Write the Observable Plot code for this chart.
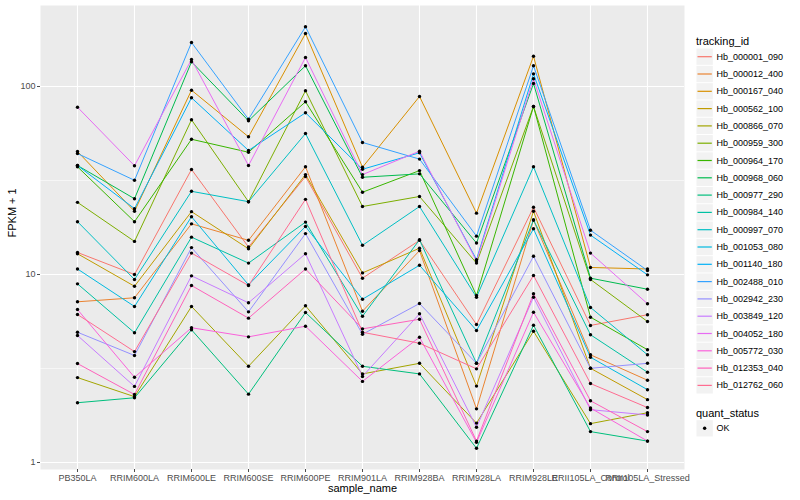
<!DOCTYPE html>
<html>
<head>
<meta charset="utf-8">
<script src="https://cdn.jsdelivr.net/npm/d3@7"></script>
<script src="https://cdn.jsdelivr.net/npm/@observablehq/plot@0.6"></script>
<style>
  html, body { margin: 0; padding: 0; background: white; }
  #wrap { position: relative; width: 800px; height: 500px; font-family: "Liberation Sans", Arial, sans-serif; }
  #chart { position: absolute; left: 0; top: 0; }
  #legend { position: absolute; left: 690px; top: 0; }
</style>
</head>
<body>
<div id="wrap"><div id="chart"></div><div id="legend"></div></div>
<script>
const samples = ["PB350LA","RRIM600LA","RRIM600LE","RRIM600SE","RRIM600PE","RRIM901LA","RRIM928BA","RRIM928LA","RRIM928LE","RRII105LA_Control","RRII105LA_Stressed"];

const trackingIds = ["Hb_000001_090","Hb_000012_400","Hb_000167_040","Hb_000562_100","Hb_000866_070","Hb_000959_300","Hb_000964_170","Hb_000968_060","Hb_000977_290","Hb_000984_140","Hb_000997_070","Hb_001053_080","Hb_001140_180","Hb_002488_010","Hb_002942_230","Hb_003849_120","Hb_004052_180","Hb_005772_030","Hb_012353_040","Hb_012762_060"];

const trackingColors = ["#F8766D","#EA8331","#D89000","#C09B00","#A3A500","#7CAE00","#39B600","#00BB4E","#00BF7D","#00C1A3","#00BFC4","#00BAE0","#00B0F6","#35A2FF","#9590FF","#C77CFF","#E76BF3","#FA62DB","#FF62BC","#FF6C91"];

// FPKM + 1 per sample, in the order of `samples`
const hb_000001_090 = [13.1, 10.0, 36.2, 14.0, 33.2, 9.56, 15.2, 5.42, 22.8, 5.36, 6.11];
const hb_000012_400 = [7.16, 7.52, 18.6, 15.2, 37.4, 6.38, 13.4, 1.93, 19.5, 3.74, 2.74];
const hb_000167_040 = [45.1, 21.7, 95.6, 54.0, 191.4, 37.2, 88.5, 21.2, 144.9, 10.9, 10.7];
const hb_000562_100 = [12.9, 8.66, 21.6, 13.7, 34.0, 10.2, 13.8, 2.55, 21.7, 3.17, 2.16];
const hb_000866_070 = [2.83, 2.24, 6.76, 3.25, 6.82, 2.96, 3.37, 1.62, 4.99, 1.61, 1.84];
const hb_000959_300 = [24.2, 15.0, 66.5, 24.4, 94.9, 23.0, 26.0, 11.5, 78.3, 9.41, 5.62];
const hb_000964_170 = [37.4, 19.1, 52.4, 44.7, 82.9, 27.4, 35.7, 7.73, 78.3, 5.93, 3.98];
const hb_000968_060 = [38.0, 25.3, 135.3, 65.7, 128.9, 32.9, 34.3, 14.7, 103.7, 9.56, 8.35];
const hb_000977_290 = [2.08, 2.21, 5.08, 2.31, 6.28, 3.25, 2.96, 1.19, 5.37, 1.46, 1.30];
const hb_000984_140 = [8.92, 4.90, 15.8, 11.5, 19.0, 6.00, 15.3, 3.37, 19.5, 4.78, 3.02];
const hb_000997_070 = [19.1, 9.41, 27.7, 24.4, 56.2, 14.3, 23.0, 7.57, 37.4, 6.68, 3.74];
const hb_001053_080 = [10.7, 6.76, 20.3, 8.81, 18.0, 7.39, 11.2, 5.04, 17.5, 3.63, 2.44];
const hb_001140_180 = [38.0, 22.4, 87.1, 45.7, 72.5, 36.3, 44.4, 12.0, 116.8, 16.2, 9.96];
const hb_002488_010 = [44.0, 31.7, 171.4, 67.0, 207.8, 50.4, 41.1, 16.0, 128.9, 17.2, 10.5];
const hb_002942_230 = [4.93, 3.71, 13.9, 6.33, 16.5, 4.81, 7.01, 3.37, 12.5, 3.17, 3.37];
const hb_003849_120 = [4.74, 2.54, 9.84, 7.07, 12.9, 2.87, 6.18, 1.54, 7.57, 1.91, 1.79];
const hb_004052_180 = [77.6, 37.9, 139.2, 38.0, 142.7, 34.0, 45.3, 11.8, 109.9, 13.0, 6.99];
const hb_005772_030 = [6.51, 2.84, 5.21, 4.66, 5.31, 2.70, 4.64, 1.28, 6.30, 1.95, 1.30];
const hb_012353_040 = [3.36, 2.30, 8.74, 5.86, 10.7, 5.14, 5.78, 1.30, 7.90, 2.13, 1.46];
const hb_012762_060 = [6.13, 3.89, 13.0, 8.74, 25.1, 4.93, 4.31, 3.15, 9.88, 2.63, 1.96];

const yTicks = [1, 10, 100];
const yMinor = [3.1623, 31.623];
const quantStatus = ["OK"];

const seriesValues = [hb_000001_090, hb_000012_400, hb_000167_040, hb_000562_100, hb_000866_070, hb_000959_300, hb_000964_170, hb_000968_060, hb_000977_290, hb_000984_140, hb_000997_070, hb_001053_080, hb_001140_180, hb_002488_010, hb_002942_230, hb_003849_120, hb_004052_180, hb_005772_030, hb_012353_040, hb_012762_060];

const data = [];
seriesValues.forEach((vals, i) => vals.forEach((v, j) => data.push({tracking_id: trackingIds[i], sample_name: samples[j], fpkm: v, quant_status: "OK"})));

const chart = Plot.plot({
  width: 690, height: 500,
  marginLeft: 40, marginRight: 6, marginTop: 5, marginBottom: 31,
  style: {fontFamily: "'Liberation Sans', Arial, sans-serif", background: "white", overflow: "visible"},
  x: {type: "point", domain: samples, padding: 0.6, axis: null},
  y: {type: "log", domain: [0.918, 269.7], axis: null},
  color: {domain: trackingIds, range: trackingColors},
  marks: [
    Plot.frame({fill: "#EBEBEB", stroke: null}),
    Plot.ruleY(yMinor, {stroke: "white", strokeWidth: 0.55}),
    Plot.ruleY(yTicks, {stroke: "white", strokeWidth: 1.1}),
    Plot.ruleX(samples, {stroke: "white", strokeWidth: 1.1}),
    Plot.line(data, {x: "sample_name", y: "fpkm", z: "tracking_id", stroke: "tracking_id", strokeWidth: 1}),
    Plot.dot(data, {x: "sample_name", y: "fpkm", r: 1.7, fill: "black", stroke: null}),
    Plot.axisX({tickSize: 3, tickPadding: 2, fontSize: 9, color: "#4d4d4d", label: null}),
    Plot.axisY({ticks: yTicks, tickFormat: d => String(d), tickSize: 3, tickPadding: 2, fontSize: 9, color: "#4d4d4d", label: null}),
    Plot.text(["sample_name"], {frameAnchor: "bottom", dy: 22, fontSize: 11, fill: "black"}),
    Plot.text(["FPKM + 1"], {frameAnchor: "left", dx: -28, rotate: -90, fontSize: 11, fill: "black"})
  ]
});
document.getElementById("chart").appendChild(chart);

// Legend (right side)
const lg = d3.select("#legend").append("svg").attr("width", 110).attr("height", 500)
  .style("font-family", "'Liberation Sans', Arial, sans-serif");
lg.append("text").attr("x", 6).attr("y", 41).attr("dominant-baseline", "central")
  .attr("font-size", 11).text("tracking_id");
const step = 17.3, y0 = 56.7;
trackingIds.forEach((id, i) => {
  const cy = y0 + i * step;
  lg.append("rect").attr("x", 6.5).attr("y", cy - 8.15).attr("width", 16.3).attr("height", 16.3).attr("fill", "#F2F2F2");
  lg.append("line").attr("x1", 7.5).attr("x2", 21.8).attr("y1", cy).attr("y2", cy)
    .attr("stroke", trackingColors[i]).attr("stroke-width", 1.2);
  lg.append("text").attr("x", 26.5).attr("y", cy).attr("dominant-baseline", "central")
    .attr("font-size", 9).text(id);
});
lg.append("text").attr("x", 6).attr("y", 412.7).attr("dominant-baseline", "central")
  .attr("font-size", 11).text("quant_status");
quantStatus.forEach((q, i) => {
  const cy = 428.3 + i * step;
  lg.append("rect").attr("x", 6.5).attr("y", cy - 8.15).attr("width", 16.3).attr("height", 16.3).attr("fill", "#F2F2F2");
  lg.append("circle").attr("cx", 14.65).attr("cy", cy).attr("r", 1.7).attr("fill", "black");
  lg.append("text").attr("x", 26.5).attr("y", cy).attr("dominant-baseline", "central")
    .attr("font-size", 9).text(q);
});
</script>
</body>
</html>
